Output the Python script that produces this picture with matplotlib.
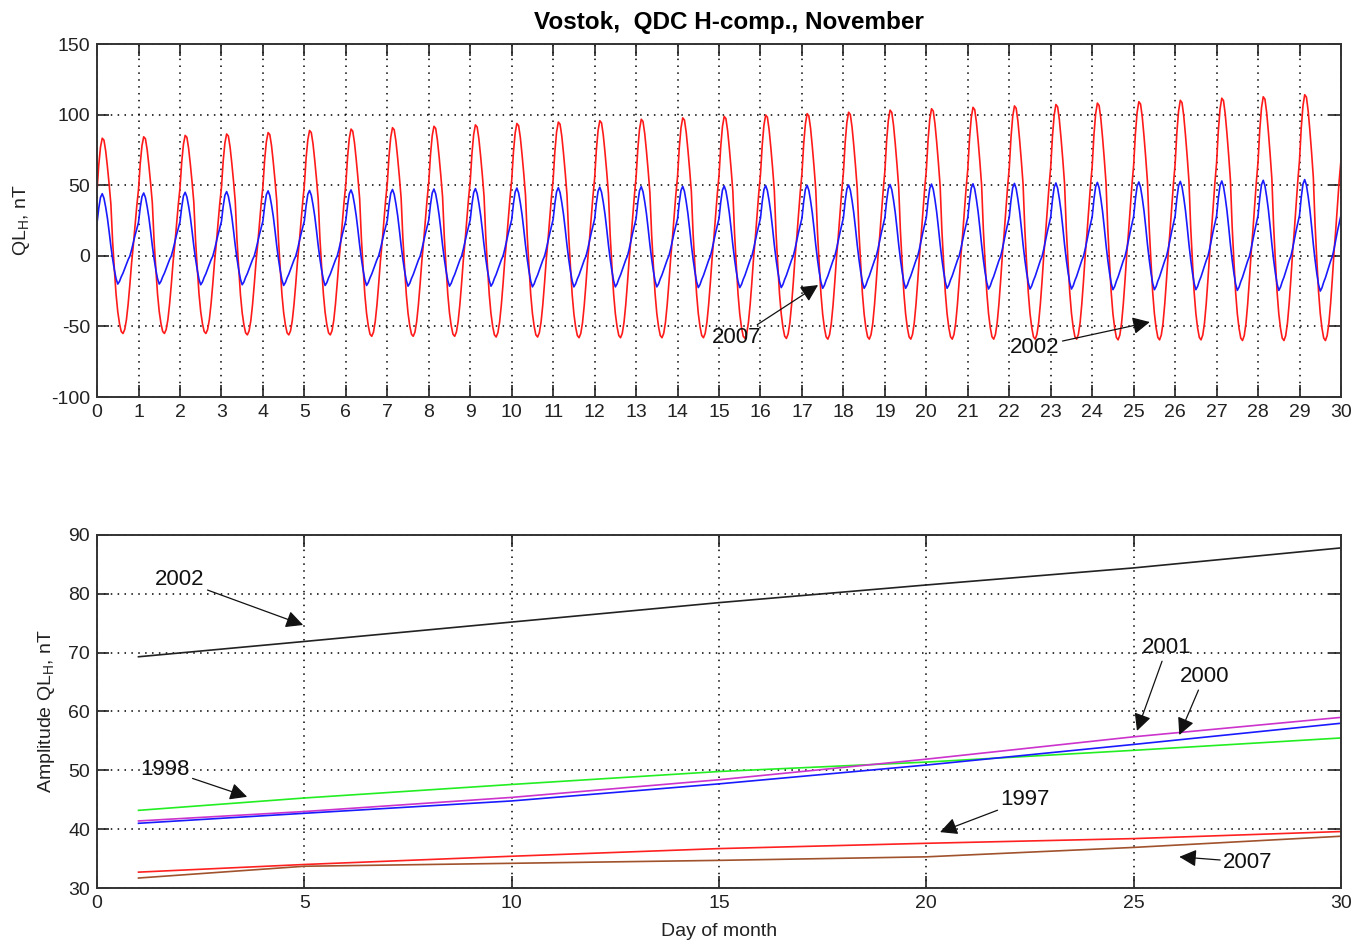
import numpy as np
import matplotlib
matplotlib.use("Agg")
import matplotlib.pyplot as plt

plt.rcParams["font.family"] = ["Liberation Sans", "DejaVu Sans"]
plt.rcParams["mathtext.fontset"] = "custom"
plt.rcParams["mathtext.rm"] = "Liberation Sans"
plt.rcParams["mathtext.it"] = "Liberation Sans"
plt.rcParams["axes.unicode_minus"] = False

# ---- top panel: daily QDC curves ----
days = np.arange(30)
# normalised hourly shape of one day (0 = daily minimum, 1 = daily maximum)
red_shape = [0.73, 0.86, 0.95, 0.995, 0.985, 0.93, 0.85, 0.76, 0.66, 0.47, 0.33, 0.20,
             0.11, 0.05, 0.01, 0.0, 0.02, 0.07, 0.15, 0.25, 0.36, 0.45, 0.55, 0.65]
blue_shape = [0.68, 0.84, 0.96, 1.0, 0.95, 0.85, 0.73, 0.58, 0.42, 0.28, 0.16, 0.06,
              0.0, 0.03, 0.08, 0.12, 0.17, 0.22, 0.27, 0.31, 0.38, 0.46, 0.54, 0.61]
# daily maxima / minima, nT
red_max = [84, 85, 86, 87, 88, 89.5, 90.5, 91.5, 92.5, 93.5, 94.5, 95.5, 96.5, 97.5, 98.5,
           99.5, 100.5, 101.5, 102.5, 104, 105, 106, 107, 108, 109, 110, 111, 112.5, 113.5, 115]
red_min = [-55, -55, -55, -56, -56, -56, -57, -57, -57, -57.5, -57.5, -58, -58, -58, -58,
           -58.5, -58.5, -59, -59, -59, -59, -59, -59, -59, -59.5, -59.5, -59.5, -60, -60, -60]
blue_max = [44, 44.5, 45, 45.5, 46, 46.3, 46.7, 47, 47.3, 47.6, 48, 48.3, 48.6, 49, 49.2,
            49.5, 49.8, 50, 50.2, 50.5, 50.8, 51, 51.3, 51.6, 52, 52.3, 52.7, 53, 53.5, 54]
blue_min = [-20, -20, -20.5, -20.5, -21, -21, -21, -21.5, -21.5, -21.5, -22, -22, -22, -22,
            -22.5, -22.5, -22.5, -23, -23, -23, -23, -23.5, -23.5, -23.5, -24, -24, -24,
            -24.5, -24.5, -25]

# ---- bottom panel: amplitude lines ----
amp_days = [1, 5, 10, 15, 20, 25, 30]
amp_2002 = [69.3, 71.9, 75.2, 78.5, 81.5, 84.4, 87.8]
amp_1998 = [43.2, 45.3, 47.6, 49.8, 51.4, 53.4, 55.5]
amp_2001 = [41.4, 43.0, 45.4, 48.4, 51.9, 55.7, 59.0]
amp_2000 = [41.0, 42.7, 44.8, 47.7, 50.9, 54.4, 58.0]
amp_1997 = [32.7, 34.0, 35.4, 36.7, 37.6, 38.4, 39.6]
amp_2007 = [31.7, 33.7, 34.2, 34.7, 35.3, 36.9, 38.8]


def build_series(shape, vmax, vmin):
    shape = np.asarray(shape)
    t, v = [], []
    for d in days:
        t.extend(d + np.arange(24) / 24.0)
        v.extend(vmin[d] + (vmax[d] - vmin[d]) * shape)
    t.append(30.0)
    v.append(vmin[-1] + (vmax[-1] - vmin[-1]) * shape[0])
    return np.array(t), np.array(v)


def style_axes(ax):
    ax.tick_params(direction="in", length=8.5, width=1.2, top=True, right=True,
                   labelsize=14, colors="#222222", pad=5)
    ax.grid(True, color="k", linestyle=(0, (1, 3.5)), linewidth=1.1)
    for sp in ax.spines.values():
        sp.set_linewidth(1.4)
        sp.set_color("#333333")


fig = plt.figure(figsize=(13.65, 9.41), dpi=100)
ax1 = fig.add_axes([0.0711, 0.5781, 0.9113, 0.3751])
ax2 = fig.add_axes([0.0711, 0.0563, 0.9113, 0.3752])

t, red = build_series(red_shape, red_max, red_min)
t, blue = build_series(blue_shape, blue_max, blue_min)
ax1.plot(t, red, color="#ff1a1a", lw=1.2)
ax1.plot(t, blue, color="#1a1aff", lw=1.2)
ax1.set_xlim(0, 30)
ax1.set_ylim(-100, 150)
ax1.set_xticks(range(0, 31))
ax1.set_yticks(range(-100, 151, 50))
ax1.set_ylabel("QL$_\\mathrm{H}$, nT", fontsize=14, color="#222222", labelpad=14)
ax1.set_title("Vostok,  QDC H-comp., November", fontsize=17.5, fontweight="bold",
              pad=11, x=0.508)
style_axes(ax1)

arrow = dict(arrowstyle="-|>", color="#111111", lw=0.9, mutation_scale=26,
             shrinkA=0, shrinkB=0)
ax1.annotate("2007", xy=(17.39, -20.7), xytext=(15.43, -58.2), fontsize=16,
             ha="center", va="center", color="#111111", arrowprops=arrow)
ax1.annotate("2002", xy=(25.39, -46.9), xytext=(22.62, -64.6), fontsize=16,
             ha="center", va="center", color="#111111", arrowprops=arrow)

ax2.plot(amp_days, amp_2002, color="#222222", lw=1.2)
ax2.plot(amp_days, amp_1998, color="#22ee22", lw=1.2)
ax2.plot(amp_days, amp_2001, color="#cc33cc", lw=1.2)
ax2.plot(amp_days, amp_2000, color="#1a1aff", lw=1.2)
ax2.plot(amp_days, amp_1997, color="#ff2020", lw=1.2)
ax2.plot(amp_days, amp_2007, color="#a0522d", lw=1.2)
ax2.set_xlim(0, 30)
ax2.set_ylim(30, 90)
ax2.set_xticks(range(0, 31, 5))
ax2.set_yticks(range(30, 91, 10))
ax2.set_xlabel("Day of month", fontsize=14, color="#222222", labelpad=8)
ax2.set_ylabel("Amplitude QL$_\\mathrm{H}$, nT", fontsize=14, color="#222222", labelpad=8)
style_axes(ax2)

labels = [("2002", (4.97, 74.7), (2.0, 82.35)),
          ("1998", (3.62, 45.5), (1.64, 50.2)),
          ("2001", (25.08, 56.7), (25.8, 70.8)),
          ("2000", (26.1, 56.0), (26.7, 65.9)),
          ("1997", (20.33, 39.5), (22.38, 45.0)),
          ("2007", (26.1, 35.3), (27.75, 34.4))]
for txt, head, pos in labels:
    ax2.annotate(txt, xy=head, xytext=pos, fontsize=16, ha="center", va="center",
                 color="#111111", arrowprops=arrow)

fig.savefig("out.png", dpi=100)
